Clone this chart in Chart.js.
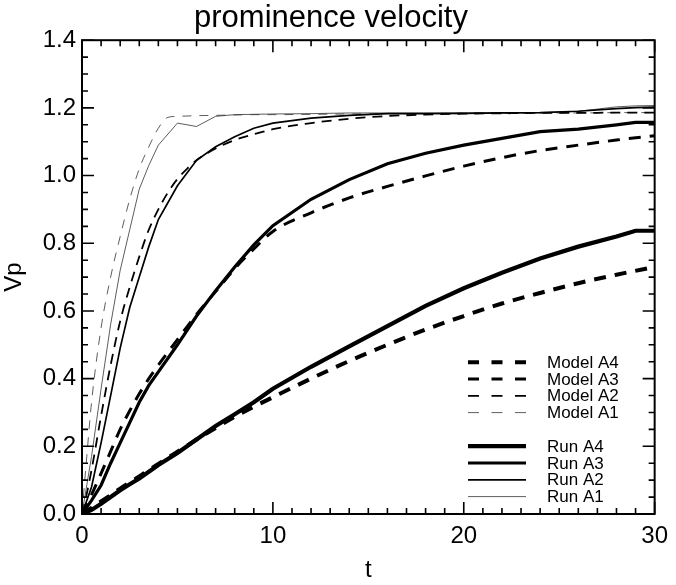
<!DOCTYPE html>
<html>
<head>
<meta charset="utf-8">
<script src="https://cdn.jsdelivr.net/npm/chart.js@4.4.0/dist/chart.umd.min.js"></script>
<style>
html,body{margin:0;padding:0;background:#fff}
#c{display:block}
</style>
</head>
<body>
<canvas id="c" width="676" height="585"></canvas>
<script>
// ===== values =====
const T_RUN   = [0,0.5,1,1.5,2,2.5,3,3.5,4,5,6,7,8,9,10,12,14,16,18,20,22,24,26,28,29,30];
const RUN_A1  = [0,0.17,0.37,0.56,0.72,0.84,0.96,1.03,1.09,1.155,1.145,1.175,1.18,1.181,1.182,1.183,1.185,1.185,1.185,1.185,1.185,1.186,1.19,1.203,1.206,1.207];
const RUN_A2  = [0,0.08,0.21,0.35,0.49,0.61,0.70,0.79,0.87,0.97,1.045,1.085,1.115,1.14,1.155,1.17,1.178,1.183,1.183,1.184,1.185,1.186,1.19,1.198,1.201,1.202];
const RUN_A3  = [0,0.04,0.085,0.15,0.21,0.27,0.33,0.38,0.42,0.50,0.585,0.66,0.73,0.795,0.852,0.93,0.988,1.035,1.066,1.09,1.11,1.13,1.137,1.15,1.157,1.157];
const RUN_A4  = [0,0.012,0.03,0.05,0.07,0.088,0.105,0.125,0.145,0.18,0.22,0.26,0.295,0.33,0.37,0.435,0.495,0.555,0.615,0.667,0.713,0.755,0.79,0.82,0.837,0.837];

const T_MODEL  = [0,0.25,0.5,1,1.5,2,2.5,3,3.5,4,4.5,5,5.5,6,7,8,9,10,12,14,16,18,20,22,24,26,28,30];
const MODEL_A1 = [0,0.17,0.33,0.55,0.70,0.82,0.93,1.02,1.085,1.14,1.172,1.175,1.176,1.177,1.178,1.179,1.18,1.18,1.181,1.182,1.183,1.183,1.184,1.184,1.185,1.185,1.186,1.186];
const MODEL_A2 = [0,0.06,0.13,0.29,0.44,0.57,0.67,0.76,0.84,0.90,0.95,0.99,1.02,1.045,1.08,1.105,1.122,1.137,1.155,1.168,1.176,1.18,1.183,1.184,1.185,1.185,1.186,1.186];
const MODEL_A3 = [0,0.028,0.057,0.12,0.185,0.25,0.305,0.355,0.40,0.44,0.478,0.515,0.553,0.59,0.657,0.725,0.783,0.835,0.89,0.934,0.968,0.999,1.028,1.053,1.074,1.09,1.105,1.118];
const MODEL_A4 = [0,0.009,0.018,0.037,0.056,0.075,0.093,0.111,0.13,0.148,0.166,0.184,0.202,0.22,0.254,0.287,0.317,0.345,0.40,0.452,0.50,0.545,0.585,0.622,0.653,0.682,0.707,0.73];

const X_TICKS = [0,10,20,30];
const Y_TICKS = ['0.0','0.2','0.4','0.6','0.8','1.0','1.2','1.4'];
const KEY_ROWS = ['Model A4','Model A3','Model A2','Model A1',null,'Run A4','Run A3','Run A2','Run A1'];

const FONT = "'Liberation Sans', Arial, Helvetica, sans-serif";
const pts = (ts,vs)=>ts.map((t,i)=>({x:t,y:vs[i]}));

function run(label,vals,w,col){
  return {label,data:pts(T_RUN,vals),borderColor:col||'#000',borderWidth:w,pointRadius:0,tension:0,fill:false,keyDash:[]};
}
function model(label,vals,w,dash,col){
  return {label,data:pts(T_MODEL,vals),borderColor:col||'#000',borderWidth:w,borderDash:dash,pointRadius:0,
    cubicInterpolationMode:'monotone',fill:false,keyDash:[11,12.5]};
}

// ===== IDL style box with inward ticks on all four sides =====
const boxTicks = {
  id:'boxTicks',
  afterDraw(chart){
    const {ctx,chartArea:a,scales:{x,y}} = chart;
    ctx.save();
    ctx.strokeStyle='#000'; ctx.lineWidth=1.6; ctx.setLineDash([]);
    ctx.beginPath();
    for(let v=0; v<=30; v++){
      const px=x.getPixelForValue(v), len=v%10===0?12:6;
      ctx.moveTo(px,a.bottom); ctx.lineTo(px,a.bottom-len);
      ctx.moveTo(px,a.top); ctx.lineTo(px,a.top+len);
    }
    for(let k=0; k<=28; k++){
      const py=y.getPixelForValue(k*0.05), len=k%4===0?12:6;
      ctx.moveTo(a.left,py); ctx.lineTo(a.left+len,py);
      ctx.moveTo(a.right,py); ctx.lineTo(a.right-len,py);
    }
    ctx.stroke();
    ctx.lineWidth=2;
    ctx.strokeRect(a.left,a.top,a.right-a.left,a.bottom-a.top);
    ctx.restore();
  }
};

// ===== line key, lower right inside the box =====
const lineKey = {
  id:'lineKey',
  afterDatasetsDraw(chart){
    const {ctx,chartArea:a} = chart;
    const x0=a.left+386, x1=a.left+444, tx=a.left+465, y0=a.top+322, dy=16.8;
    ctx.save();
    ctx.font='17px '+FONT; ctx.textBaseline='middle'; ctx.fillStyle='#000';
    KEY_ROWS.forEach((name,i)=>{
      if(!name) return;
      const ds=chart.data.datasets.find(d=>d.label===name);
      const yy=y0+i*dy;
      ctx.strokeStyle=ds.borderColor; ctx.lineWidth=ds.borderWidth; ctx.setLineDash(ds.keyDash);
      ctx.beginPath(); ctx.moveTo(x0,yy); ctx.lineTo(x1,yy); ctx.stroke();
      ctx.setLineDash([]);
      ctx.fillText(name,tx,yy+1);
    });
    ctx.restore();
  }
};

new Chart(document.getElementById('c'),{
  type:'line',
  data:{datasets:[
    run('Run A4',RUN_A4,4.2), run('Run A3',RUN_A3,3.2), run('Run A2',RUN_A2,1.7), run('Run A1',RUN_A1,0.8,'#333'),
    model('Model A4',MODEL_A4,4,[12,9]), model('Model A3',MODEL_A3,3,[12,9]),
    model('Model A2',MODEL_A2,1.8,[10,7]), model('Model A1',MODEL_A1,0.8,[9,8],'#333')
  ]},
  options:{
    responsive:false, animation:false, devicePixelRatio:1,
    layout:{padding:{left:0,right:14,top:0,bottom:0}},
    plugins:{
      legend:{display:false}, tooltip:{enabled:false},
      title:{display:true,text:'prominence velocity',color:'#000',
        font:{family:FONT,size:31,weight:'normal',lineHeight:1.2},padding:{top:0,bottom:3}}
    },
    scales:{
      x:{type:'linear',min:0,max:30,
        afterBuildTicks(s){ s.ticks=X_TICKS.map(v=>({value:v})); },
        afterFit(s){ s.height=71; },
        grid:{display:false,drawTicks:false}, border:{display:false},
        ticks:{color:'#000',padding:8,font:{family:FONT,size:24},maxRotation:0,autoSkip:false},
        title:{display:true,text:'t',color:'#000',padding:0,font:{family:FONT,size:24}}
      },
      y:{type:'linear',min:0,max:1.4,
        afterBuildTicks(s){ s.ticks=Y_TICKS.map(v=>({value:parseFloat(v)})); },
        afterFit(s){ s.width=82; },
        grid:{display:false,drawTicks:false}, border:{display:false},
        ticks:{color:'#000',padding:6,font:{family:FONT,size:24},autoSkip:false,
          callback:(v)=>Y_TICKS.find(t=>parseFloat(t)===v) ?? v.toFixed(1)},
        title:{display:true,text:'Vp',color:'#000',padding:0,font:{family:FONT,size:24}}
      }
    }
  },
  plugins:[boxTicks,lineKey]
});
</script>
</body>
</html>
